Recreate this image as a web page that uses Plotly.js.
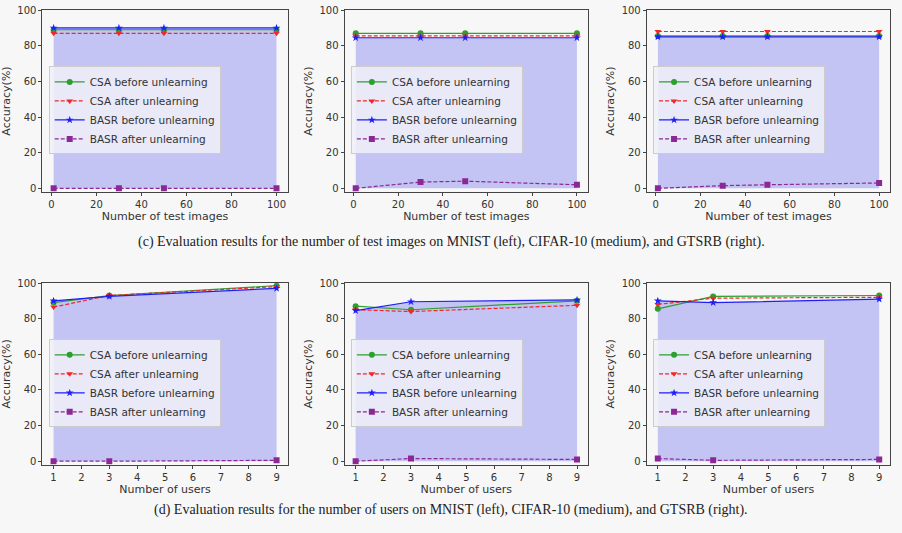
<!DOCTYPE html>
<html><head><meta charset="utf-8">
<script src="https://cdn.plot.ly/plotly-3.0.1.min.js"></script>
<style>body{margin:0;background:#f7f7f7}</style></head>
<body><div id="plot" style="width:902px;height:533px"></div>
<script>
var xImages = [1, 30, 50, 100];
var xUsers = [1, 3, 9];
var names = ['CSA before unlearning', 'CSA after unlearning', 'BASR before unlearning', 'BASR after unlearning'];

// [csaBefore, csaAfter, basrBefore, basrAfter]
var mnistImages = [[89, 89, 89, 89], [87, 87, 87, 87], [90, 90, 90, 90], [0, 0, 0, 0]];
var cifarImages = [[87, 87, 87, 87], [85.5, 85.5, 85.5, 85.5], [84.5, 84.5, 84.5, 84.5], [0, 3.5, 4, 2]];
var gtsrbImages = [[85.5, 85.5, 85.5, 85.5], [88, 88, 88, 88], [85, 85, 85, 85], [0, 1.5, 2, 3]];
var mnistUsers = [[89, 93, 98.5], [86.5, 93, 98], [90, 92.5, 97], [0, 0, 0.5]];
var cifarUsers = [[87, 85, 90], [85, 84, 87.5], [84.5, 89.5, 90.5], [0, 1.5, 1]];
var gtsrbUsers = [[85.5, 92.5, 93], [88, 91.5, 92], [90, 89, 91], [1.5, 0.5, 1]];

var colors = ['rgb(44,160,44)', 'rgb(240,40,40)', 'rgb(30,30,250)', 'rgb(140,40,150)'];
var dashes = ['solid', '4px,2px', 'solid', '4px,2px'];
var symbols = ['circle', 'triangle-down', 'star', 'square'];

var panels = [
  {x: xImages, d: mnistImages}, {x: xImages, d: cifarImages}, {x: xImages, d: gtsrbImages},
  {x: xUsers, d: mnistUsers}, {x: xUsers, d: cifarUsers}, {x: xUsers, d: gtsrbUsers}
];
var xDom = [[0.047, 0.319], [0.382, 0.652], [0.717, 0.987]];
var yDom = [[0.640, 0.981], [0.128, 0.469]];

var traces = [];
var layout = {
  width: 902, height: 533, margin: {l: 0, r: 0, t: 0, b: 0},
  paper_bgcolor: '#f7f7f7', plot_bgcolor: '#f7f7f7',
  font: {family: 'DejaVu Sans', size: 10, color: '#333'},
  annotations: [
    {text: '(c) Evaluation results for the number of test images on MNIST (left), CIFAR-10 (medium), and GTSRB (right).',
     x: 0.5, y: 1 - 242 / 533, xref: 'paper', yref: 'paper', showarrow: false,
     font: {family: 'Liberation Serif', size: 14, color: '#222'}},
    {text: '(d) Evaluation results for the number of users on MNIST (left), CIFAR-10 (medium), and GTSRB (right).',
     x: 0.5, y: 1 - 520 / 533, xref: 'paper', yref: 'paper', showarrow: false,
     font: {family: 'Liberation Serif', size: 14, color: '#222'}}
  ]
};

panels.forEach(function (p, i) {
  var n = i + 1;
  var xa = 'x' + (n === 1 ? '' : n), ya = 'y' + (n === 1 ? '' : n);
  var lg = 'legend' + (n === 1 ? '' : n);
  var row = Math.floor(i / 3), col = i % 3;
  traces.push({x: p.x, y: p.d[2], xaxis: xa, yaxis: ya, mode: 'none', fill: 'tozeroy',
    fillcolor: 'rgb(196,196,244)', showlegend: false, hoverinfo: 'skip'});
  for (var k = 0; k < 4; k++) {
    traces.push({x: p.x, y: p.d[k], xaxis: xa, yaxis: ya, name: names[k], legend: lg,
      mode: 'lines+markers', line: {color: colors[k], dash: dashes[k], width: 1.2},
      marker: {symbol: symbols[k], size: 6, color: colors[k]}});
  }
  var isUsers = row === 1;
  layout['xaxis' + (n === 1 ? '' : n)] = {
    domain: xDom[col], anchor: ya, range: isUsers ? [0.6, 9.4] : [-4, 105],
    dtick: isUsers ? 1 : 20, ticks: 'outside', ticklen: 3, showgrid: false, zeroline: false,
    showline: true, mirror: true, linecolor: '#444',
    title: {text: isUsers ? 'Number of users' : 'Number of test images', standoff: 0, font: {size: 11}}
  };
  layout['yaxis' + (n === 1 ? '' : n)] = {
    domain: yDom[row], anchor: xa, range: [-2, 100], dtick: 20, ticks: 'outside', ticklen: 3,
    showgrid: false, zeroline: false, showline: true, mirror: true, linecolor: '#444',
    title: {text: 'Accuracy(%)', standoff: 4, font: {size: 11}}
  };
  layout[lg] = {
    x: xDom[col][0] + 0.007, y: yDom[row][0] + (yDom[row][1] - yDom[row][0]) * 0.69,
    xanchor: 'left', yanchor: 'top', bgcolor: 'rgba(240,240,248,0.85)',
    bordercolor: '#ccc', borderwidth: 1, font: {size: 10.5}, tracegroupgap: 0,
    itemwidth: 30, entrywidth: 0
  };
});

Plotly.newPlot('plot', traces, layout, {displayModeBar: false});
</script></body></html>
